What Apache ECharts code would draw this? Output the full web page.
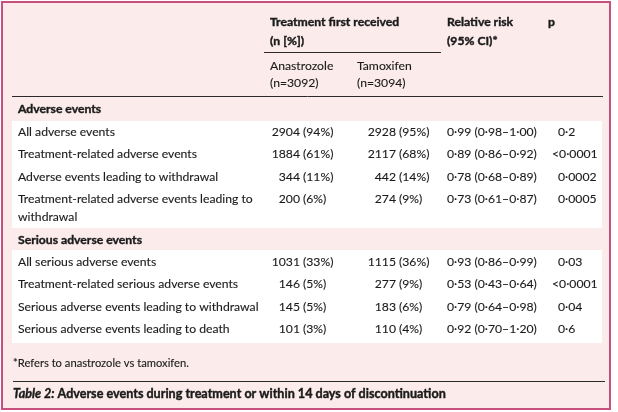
<!DOCTYPE html>
<html><head><meta charset="utf-8">
<script src="https://cdn.jsdelivr.net/npm/echarts@6/dist/echarts.min.js"></script>
<style>html,body{margin:0;padding:0;background:#fff}#c{width:618px;height:412px}</style>
</head><body><div id="c"></div>
<script>
// ---- data ----
var headerGroup = ["Treatment first received", "(n [%])"];
var armNames = ["Anastrozole", "Tamoxifen"];
var armN = ["(n=3092)", "(n=3094)"];
var rrHeader = ["Relative risk", "(95% CI)*"];
var pHeader = "p";
var sections = ["Adverse events", "Serious adverse events"];
var labels1 = ["All adverse events", "Treatment-related adverse events", "Adverse events leading to withdrawal", "Treatment-related adverse events leading to\nwithdrawal"];
var anaN1 = ["2904", "1884", "344", "200"];
var anaP1 = ["(94%)", "(61%)", "(11%)", "(6%)"];
var tamN1 = ["2928", "2117", "442", "274"];
var tamP1 = ["(95%)", "(68%)", "(14%)", "(9%)"];
var rr1 = ["0·99 (0·98–1·00)", "0·89 (0·86–0·92)", "0·78 (0·68–0·89)", "0·73 (0·61–0·87)"];
var p1 = ["0·2", "<0·0001", "0·0002", "0·0005"];
var labels2 = ["All serious adverse events", "Treatment-related serious adverse events", "Serious adverse events leading to withdrawal", "Serious adverse events leading to death"];
var anaN2 = ["1031", "146", "145", "101"];
var anaP2 = ["(33%)", "(5%)", "(5%)", "(3%)"];
var tamN2 = ["1115", "277", "183", "110"];
var tamP2 = ["(36%)", "(9%)", "(6%)", "(4%)"];
var rr2 = ["0·93 (0·86–0·99)", "0·53 (0·43–0·64)", "0·79 (0·64–0·98)", "0·92 (0·70–1·20)"];
var p2 = ["0·03", "<0·0001", "0·04", "0·6"];
var footnote = "*Refers to anastrozole vs tamoxifen.";
var captionLead = "Table 2:";
var captionText = " Adverse events during treatment or within 14 days of discontinuation";

// ---- layout ----
var FONT = 'Lato, "Liberation Sans", sans-serif';
var FS = 12.2;
var TXT = '#1a1a1a';
var els = [];
function t(x, y, s, o) {
  o = o || {};
  els.push({type: 'text', x: x, y: y, silent: true, style: {
    text: s, fill: o.fill || TXT, font: (o.italic ? 'italic ' : '') + (o.bold ? 'bold ' : '') + (o.size || FS) + 'px ' + FONT,
    textAlign: o.align || 'left', textVerticalAlign: 'middle',
    stroke: TXT, lineWidth: o.bold ? 0.4 : 0.12 }});
}
function r(x, y, w, h, fill, stroke, lw) {
  els.push({type: 'rect', shape: {x: x, y: y, width: w, height: h}, silent: true,
    style: {fill: fill || 'none', stroke: stroke || null, lineWidth: lw || 0}});
}
function l(x1, y1, x2, y2) {
  els.push({type: 'line', shape: {x1: x1, y1: y1, x2: x2, y2: y2}, silent: true,
    style: {stroke: '#2a2a2a', lineWidth: 1}});
}

// background and border
r(0, 0, 618, 412, '#ffffff');
r(2, 2, 608, 407, '#fbeceb', '#c94f7c', 2);

// white bands for body rows
r(12, 121, 590, 107, '#ffffff');
r(12, 250, 590, 93, '#ffffff');

// column x positions
var xLab = 18, xAnaNum = 300, xAnaPct = 303, xTamNum = 396, xTamPct = 399, xRR = 447, xP = 558;

// headers
t(270, 22, headerGroup[0], {bold: true});
t(270, 41, headerGroup[1], {bold: true});
l(264, 52.5, 441, 52.5);
t(xRR, 22, rrHeader[0], {bold: true});
t(xRR, 41, rrHeader[1], {bold: true});
t(548, 22, pHeader, {bold: true});
t(270, 66, armNames[0]);
t(270, 83, armN[0]);
t(357, 66, armNames[1]);
t(357, 83, armN[1]);
l(12, 96.5, 603, 96.5);

function rows(ys, labs, aN, aP, tN, tP, rr, pv) {
  for (var i = 0; i < labs.length; i++) {
    var y = ys[i];
    var parts = labs[i].split('\n');
    t(xLab, y, parts[0]);
    if (parts.length > 1) t(xLab, y + 18, parts[1]);
    t(xAnaNum, y, aN[i], {align: 'right'});
    t(xAnaPct, y, aP[i]);
    t(xTamNum, y, tN[i], {align: 'right'});
    t(xTamPct, y, tP[i]);
    t(xRR, y, rr[i]);
    t(pv[i].charAt(0) === '<' ? xP - 6 : xP, y, pv[i]);
  }
}
t(xLab, 109, sections[0], {bold: true});
rows([132, 154.5, 177, 199.5], labels1, anaN1, anaP1, tamN1, tamP1, rr1, p1);
t(xLab, 240, sections[1], {bold: true});
rows([262, 284.5, 307, 329.5], labels2, anaN2, anaP2, tamN2, tamP2, rr2, p2);

// footer
t(13, 363, footnote, {size: 11.2});
l(13, 381.5, 605, 381.5);
els.push({type: 'text', x: 13, y: 394, silent: true, style: {
  text: '{a|' + captionLead + '}{b|' + captionText + '}', textVerticalAlign: 'middle',
  rich: {a: {font: 'italic bold 12.6px ' + FONT, fill: TXT, stroke: TXT, lineWidth: 0.4},
         b: {font: 'bold 12.6px ' + FONT, fill: TXT, stroke: TXT, lineWidth: 0.4}} }});

var chart = echarts.init(document.getElementById('c'), null, {renderer: 'canvas'});
chart.setOption({animation: false, graphic: {elements: els}});
</script></body></html>
